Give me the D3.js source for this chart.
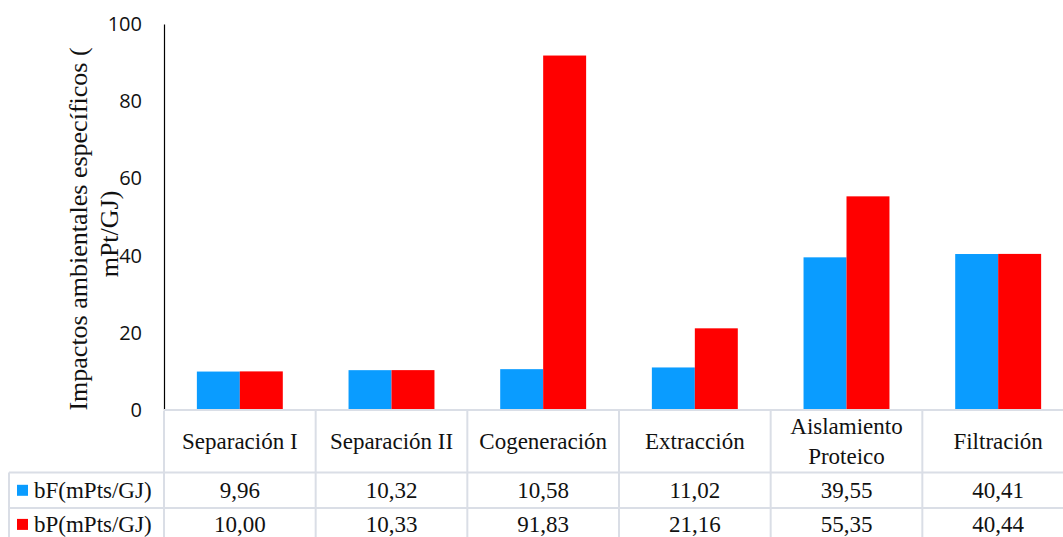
<!DOCTYPE html>
<html>
<head>
<meta charset="utf-8">
<script src="https://cdn.jsdelivr.net/npm/d3@7"></script>
<style>
  html, body { margin: 0; padding: 0; background: #fff; }
  svg { display: block; }
</style>
</head>
<body>
<svg id="chart" width="1063" height="537"></svg>
<script>
// Process stages and specific environmental impacts (mPts/GJ)
const categories = [["Separación I"], ["Separación II"], ["Cogeneración"], ["Extracción"], ["Aislamiento", "Proteico"], ["Filtración"]];
const seriesNames = ["bF(mPts/GJ)", "bP(mPts/GJ)"];
const bF = [9.96, 10.32, 10.58, 11.02, 39.55, 40.41];
const bP = [10.00, 10.33, 91.83, 21.16, 55.35, 40.44];
const yTicks = [0, 20, 40, 60, 80, 100];
const colors = ["#0a9cff", "#ff0000"];

const series = [bF, bP];
const keys = categories.map(c => c.join(" "));

const svg = d3.select("#chart");
const plotLeft = 164, plotRight = 1074, plotTop = 24, plotBottom = 410;
const catRowH = 62.5, dataRowH = 35.6, legendLeft = 9;
const gridColor = "#dadee6";

const x0 = d3.scaleBand().domain(keys).range([plotLeft, plotRight]).padding(0);
const x1 = d3.scaleBand().domain(seriesNames).range([0, x0.bandwidth()]).paddingInner(0).paddingOuter(0.765);
const y = d3.scaleLinear().domain([0, 100]).range([plotBottom, plotTop]);

// Bars
const groups = svg.append("g").selectAll("g")
  .data(keys).join("g")
  .attr("transform", d => `translate(${x0(d)},0)`);
groups.selectAll("rect")
  .data((d, i) => seriesNames.map((s, j) => ({ s, v: series[j][i], c: colors[j] })))
  .join("rect")
  .attr("x", d => x1(d.s))
  .attr("width", x1.bandwidth())
  .attr("y", d => y(d.v))
  .attr("height", d => y(0) - y(d.v))
  .attr("fill", d => d.c);

// Y axis
const yAxis = d3.axisLeft(y).tickValues(yTicks).tickSize(0).tickPadding(22);
const ya = svg.append("g").attr("transform", `translate(${plotLeft},0)`).call(yAxis);
ya.select(".domain").attr("stroke", "#000").attr("stroke-width", 1.2);
ya.selectAll("text").attr("font-family", "'Open Sans', sans-serif").attr("font-size", 20).attr("fill", "#111");

// Y axis title (two overlapping lines)
const titleG = svg.append("g").attr("font-family", "'Liberation Serif', 'Times New Roman', serif").attr("font-size", 26).attr("fill", "#111");
titleG.append("text").attr("transform", "translate(87,229) rotate(-90)").attr("text-anchor", "middle").text("Impactos ambientales específicos (");
titleG.append("text").attr("transform", "translate(118,234) rotate(-90)").attr("text-anchor", "middle").text("mPt/GJ)");

// Data table
const table = svg.append("g");
const tableBottom = plotBottom + catRowH + 2 * dataRowH;
const rowTops = [plotBottom, plotBottom + catRowH, plotBottom + catRowH + dataRowH, tableBottom];

const gl = table.append("g").attr("stroke", gridColor).attr("stroke-width", 2);
// horizontal rules
gl.append("line").attr("x1", plotLeft).attr("x2", plotRight).attr("y1", rowTops[0]).attr("y2", rowTops[0]);
[1, 2, 3].forEach(k => gl.append("line").attr("x1", legendLeft).attr("x2", plotRight).attr("y1", rowTops[k]).attr("y2", rowTops[k]));
// vertical rules
const vx = keys.map(k => x0(k)).concat([plotRight]);
vx.forEach((xx, i) => gl.append("line").attr("x1", xx).attr("x2", xx).attr("y1", i === 0 ? plotBottom + 1 : plotBottom).attr("y2", tableBottom));
gl.append("line").attr("x1", legendLeft).attr("x2", legendLeft).attr("y1", rowTops[1]).attr("y2", tableBottom);

const tf = table.append("g").attr("font-family", "'Liberation Serif', 'Times New Roman', serif").attr("font-size", 23).attr("fill", "#111").attr("text-anchor", "middle");

// category labels
categories.forEach((lines, i) => {
  const cx = x0(keys[i]) + x0.bandwidth() / 2;
  const cy = plotBottom + catRowH / 2;
  const lh = 30;
  lines.forEach((ln, k) => {
    tf.append("text").attr("x", cx).attr("y", cy + (k - (lines.length - 1) / 2) * lh).attr("dy", "0.35em").text(ln);
  });
});

// value rows with legend keys
const fmt = v => v.toFixed(2).replace(".", ",");
seriesNames.forEach((name, j) => {
  const cy = rowTops[1 + j] + dataRowH / 2 - j * 1.5;
  series[j].forEach((v, i) => {
    tf.append("text").attr("x", x0(keys[i]) + x0.bandwidth() / 2).attr("y", cy).attr("dy", "0.35em").text(fmt(v));
  });
  table.append("rect").attr("x", 17).attr("y", cy - 5.5).attr("width", 11).attr("height", 11).attr("fill", colors[j]);
  tf.append("text").attr("x", 34).attr("y", cy).attr("dy", "0.35em").attr("text-anchor", "start").text(name);
});
</script>
</body>
</html>
